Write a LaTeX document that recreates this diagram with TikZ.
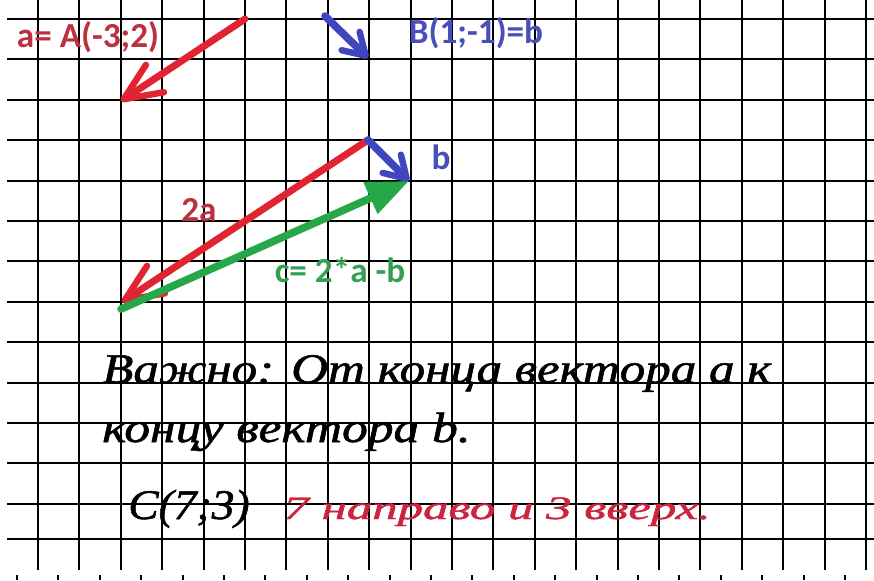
\documentclass[tikz,border=0pt]{standalone}
\usepackage{fontspec}
\usepackage{graphicx}
\usepackage{xcolor}
\setmainfont{Liberation Serif}
\newfontfamily\labelfont{Carlito}
\usetikzlibrary{arrows.meta,positioning}

\definecolor{penred}{RGB}{224,36,50}
\definecolor{labred}{RGB}{188,48,64}
\definecolor{penblue}{RGB}{64,70,192}
\definecolor{labblue}{RGB}{72,78,186}
\definecolor{pengreen}{RGB}{38,168,72}
\definecolor{labgreen}{RGB}{52,160,82}
\definecolor{inkred}{RGB}{204,36,62}

\newcommand{\widehand}[2]{\scalebox{#1}[1]{#2}}

\begin{document}
\begin{tikzpicture}[x=0.03cm,y=-0.03cm]
  \tikzstyle{gridline} = [line width=1.8pt, black]
  \tikzstyle{redvec} = [line width=6pt, penred, line cap=round, -{Straight Barb[round,length=32pt,width=28pt,line width=5.5pt]}]
  \tikzstyle{bluevec} = [line width=6.5pt, penblue, line cap=round, -{Straight Barb[round,length=18pt,width=22pt,line width=5.5pt]}]
  \tikzstyle{greenvec} = [line width=6.5pt, pengreen, line cap=round, -{Triangle[length=36pt,width=28pt]}]
  \tikzstyle{lbl} = [font=\labelfont\bfseries\fontsize{30}{34}\selectfont, inner sep=0pt]
  \tikzstyle{hand} = [font=\itshape\addfontfeature{FakeBold=1.2}\fontsize{36}{40}\selectfont, inner sep=0pt]

  \useasboundingbox (0,0) rectangle (874,580);
  \fill [white] (0,0) rectangle (874,580);

  % squared paper
  \foreach \i in {0,...,20}
    \draw [gridline] ({38+41.4*\i},0) -- ({38+41.4*\i},570);
  \foreach \j in {0,...,12}
    \draw [gridline] (7,{19+40.4*\j}) -- (874,{19+40.4*\j});
  \draw [gridline] (7,539) -- (874,539);
  \foreach \i in {0,...,20}
    \draw [gridline] ({17+41.4*\i},575) -- ({17+41.4*\i},580);

  % end points of the vectors
  \coordinate (aS) at (245,19);
  \coordinate (aE) at (121,101);
  \coordinate (bS) at (325,16);
  \coordinate (bE) at (368,58);
  \coordinate (tS) at (368,140);
  \coordinate (tE) at (122,302);
  \coordinate (bT) at (409,181);
  \coordinate (cS) at (121,309);

  \draw [redvec] (aS) -- (aE);
  \draw [bluevec] (bS) -- (bE);
  \draw [redvec] (tS) -- (tE);
  \draw [bluevec] (tS) -- (bT);
  \draw [greenvec] (cS) -- (bT);

  \node [lbl, labred] (alabel) at (88,37) {a= A(-3;2)};
  \node [lbl, labblue] (blabel) at (476,33) {B(1;-1)=b};
  \node [lbl, labblue] (bname) at (441,157) {b};
  \node [lbl, labred] (twoa) at (199,210) {2a};
  \node [lbl, labgreen] (clabel) at (340,270) {c= 2*a -b};

  % handwritten note
  \node [hand, anchor=base west] (line1) at (102,383) {\widehand{1.21}{Важно: От конца вектора a к}};
  \node [hand, anchor=base west] (line2) at (102,442) {\widehand{1.22}{концу вектора b.}};
  \node [hand, anchor=base west] (cpoint) at (128,519) {\widehand{1.08}{C(7;3)}};
  \node [hand, inkred, font=\itshape\addfontfeature{FakeBold=1.2}\fontsize{28}{32}\selectfont, base right=1cm of cpoint] (hint) {\widehand{1.55}{7 направо и 3 вверх.}};
\end{tikzpicture}
\end{document}
